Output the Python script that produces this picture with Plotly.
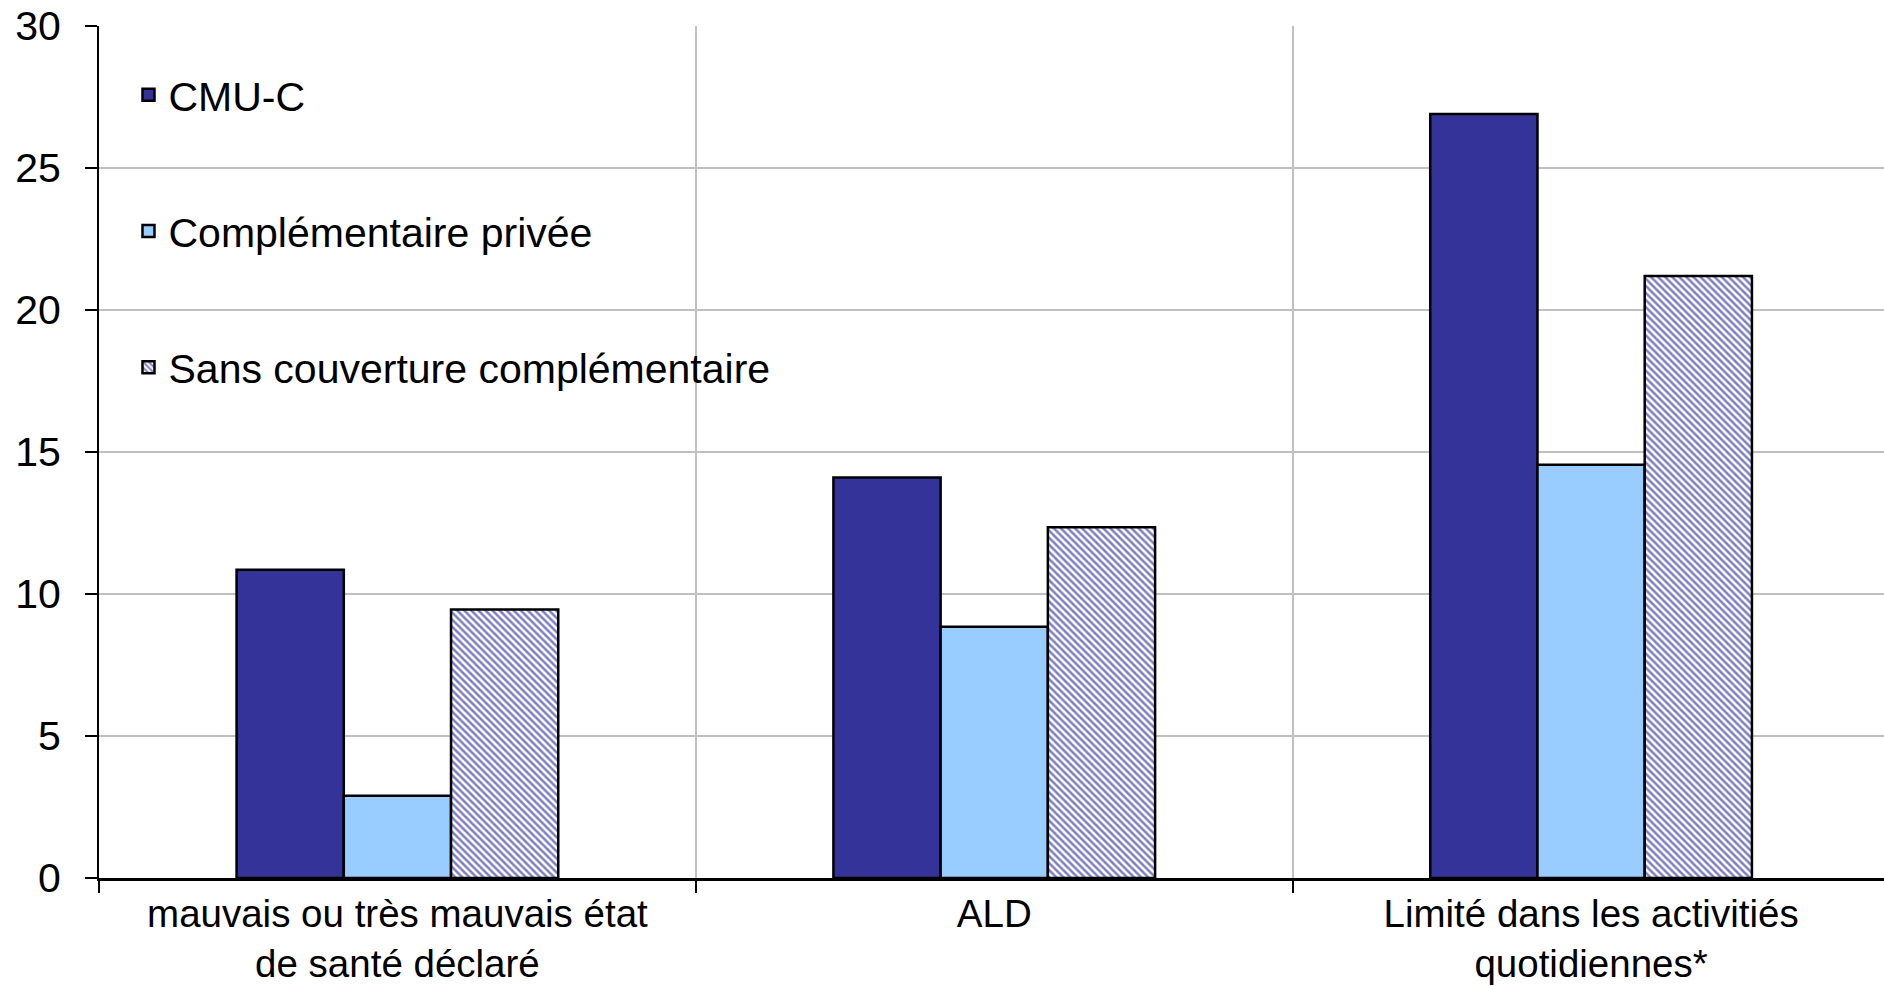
import plotly.graph_objects as go

categories = ["mauvais ou très mauvais état<br>de santé déclaré", "ALD",
              "Limité dans les activitiés<br>quotidiennes*"]
series_names = ["CMU-C", "Complémentaire privée", "Sans couverture complémentaire"]
cmu_c = [10.85, 14.1, 26.9]
privee = [2.9, 8.85, 14.55]
sans = [9.45, 12.35, 21.2]
y_ticks = [0, 5, 10, 15, 20, 25, 30]

W, H = 1884, 986
L, T, B, R = 98.5, 26.4, 107.7, 0
FONT = "Liberation Sans, Arial, sans-serif"
FS = 41
FSX = 38.5

fig = go.Figure()
fig.add_trace(go.Bar(
    x=categories, y=cmu_c, name=series_names[0], legendgroup="a",
    marker=dict(color="#333399", line=dict(color="#000000", width=2.5)),
))
fig.add_trace(go.Bar(
    x=categories, y=privee, name=series_names[1], legendgroup="b",
    marker=dict(color="#99CCFF", line=dict(color="#000000", width=2.5)),
))
fig.add_trace(go.Bar(
    x=categories, y=sans, name=series_names[2], legendgroup="c",
    marker=dict(color="#FFFFFF", line=dict(color="#000000", width=2.5),
                pattern=dict(shape="\\", fgcolor="#000080", bgcolor="#FFFFFF",
                             size=5, solidity=0.5)),
))

pw = W - L - R
ph = H - T - B
cat_px = 597.0
xr_max = -0.5 + pw / cat_px

fig.update_layout(
    width=W, height=H,
    margin=dict(l=L, r=R, t=T, b=B, pad=0, autoexpand=False),
    paper_bgcolor="white", plot_bgcolor="white",
    barmode="group", bargap=0.461, bargroupgap=0,
    font=dict(family=FONT, size=FS, color="#000000"),
    showlegend=True,
    legend=dict(
        x=(128 - L) / pw, xanchor="left",
        y=(H - B - 62) / ph, yanchor="top",
        bgcolor="rgba(0,0,0,0)", borderwidth=0,
        font=dict(family=FONT, size=FS, color="#000000"),
        tracegroupgap=80, traceorder="grouped",
    ),
    xaxis=dict(
        type="category", range=[-0.5, xr_max], automargin=False,
        showline=True, linecolor="#000000", linewidth=3,
        ticks="outside", ticklen=12, tickwidth=2, tickcolor="#000000",
        tickson="boundaries",
        showgrid=True, gridcolor="#C0C0C0", gridwidth=2,
        tickfont=dict(family=FONT, size=FSX, color="#000000"),
        zeroline=False,
    ),
    yaxis=dict(
        range=[0, 30], tickvals=y_ticks, ticktext=[str(v) for v in y_ticks],
        automargin=False,
        showline=True, linecolor="#000000", linewidth=2,
        ticks="outside", ticklen=12, tickwidth=2, tickcolor="#000000",
        ticklabelstandoff=16,
        showgrid=True, gridcolor="#C0C0C0", gridwidth=2,
        zeroline=False,
        tickfont=dict(family=FONT, size=FS, color="#000000"),
    ),
)

fig.write_html("out.html")
